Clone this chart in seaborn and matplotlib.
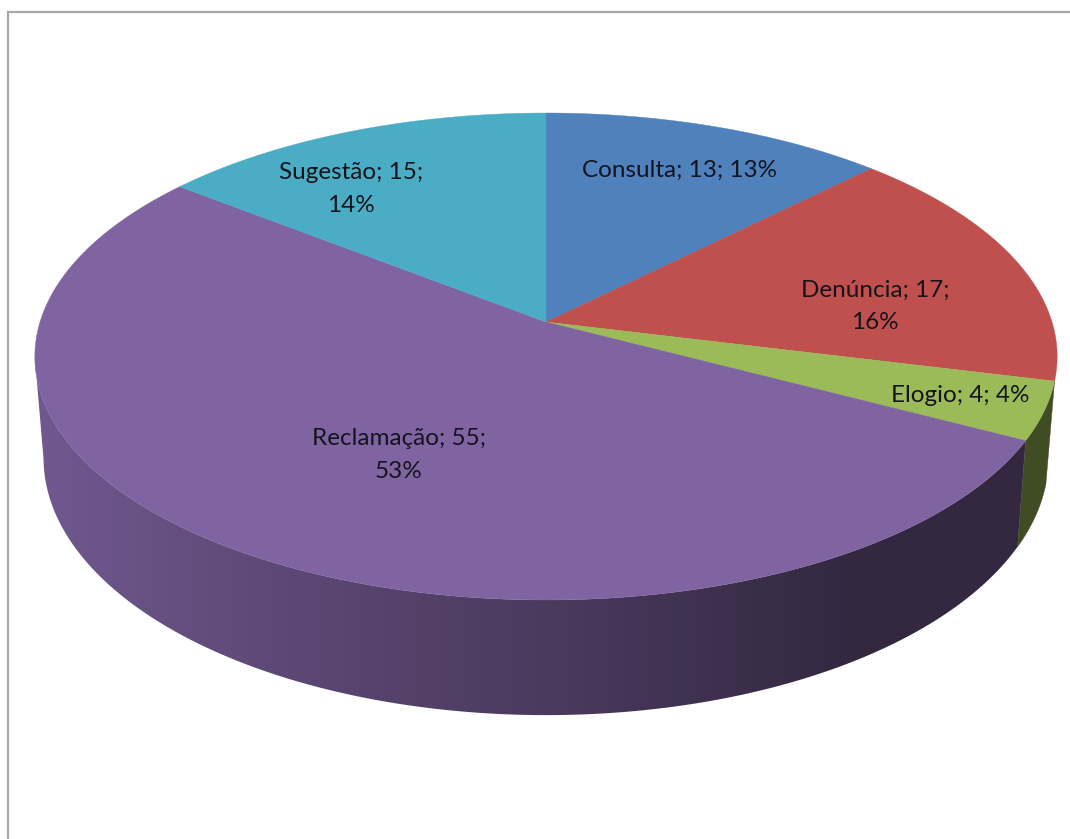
import numpy as np
import matplotlib
matplotlib.use("Agg")
import matplotlib.pyplot as plt
from matplotlib.colors import to_rgb
from matplotlib.patches import Polygon
import seaborn as sns

categories = ["Consulta", "Denúncia", "Elogio", "Reclamação", "Sugestão"]
values = [13, 17, 4, 55, 15]
line_breaks = [False, True, False, True, True]
slice_colors = ["#4f81bd", "#c0504d", "#9bbb59", "#8064a2", "#4bacc6"]

sns.set_theme(style="white")
plt.rcParams["font.family"] = ["Lato", "DejaVu Sans"]

# perspective of the pie, all in pixels of the 1070x839 picture
CX, CY = 546, 322
RX, RY = 506, 238.6
P = 0.1417
# lower rim of the disc
RX_LOW, RY_LOW, CY_LOW = 497.4, 252, 421.5

# shading of the side wall, by x position
shade_x = [40, 250, 550, 850]
shade_f = [0.88, 0.74, 0.58, 0.40]


def top_rim(theta):
    x, y = np.cos(theta), np.sin(theta)
    d = 1 + P * y
    return CX + RX * x / d, CY - RY * y / d


def low_rim(theta):
    x, y = np.cos(theta), np.sin(theta)
    d = 1 + P * y
    return CX + RX_LOW * x / d, CY_LOW - RY_LOW * y / d


fig = plt.figure(figsize=(10.70, 8.39), dpi=100)
ax = fig.add_axes([0, 0, 1, 1])

# let the pie work out the slice angles, then project them
wedges, _ = ax.pie(values, startangle=90, counterclock=False)
angles = [(w.theta1, w.theta2) for w in wedges]
ax.clear()

ax.plot([8, 8, 1070], [839, 12, 12], color="#a8a8a8", lw=1.6, solid_joinstyle="miter")

# side walls: only Elogio and Reclamação show
for i in [2, 3]:
    th = np.radians(np.linspace(angles[i][0], angles[i][1], 600))
    th = th[np.sin(th) <= -P]  # front part only, up to the silhouette
    xt, yt = top_rim(th)
    xl, yl = low_rim(th)
    outline = np.c_[np.r_[xt, xl[::-1]], np.r_[yt, yl[::-1]]]
    base = np.array(to_rgb(slice_colors[i]))
    if i == 3:
        # horizontal gradient clipped to the wall
        px = np.arange(0, 1070)
        f = np.interp(px, shade_x, shade_f)
        grad = (base[None, None, :] * f[None, :, None]).clip(0, 1)
        clip = Polygon(outline, closed=True, transform=ax.transData)
        im = ax.imshow(grad, extent=(0, 1070, 839, 0), aspect="auto", zorder=2,
                       interpolation="bilinear")
        im.set_clip_path(clip)
    else:
        ax.fill(outline[:, 0], outline[:, 1], color=tuple(base * 0.41), lw=0.3, zorder=2)

# top faces
for (t1, t2), col in zip(angles, slice_colors):
    th = np.radians(np.linspace(t1, t2, 200))
    xs, ys = top_rim(th)
    ax.fill(np.r_[CX, xs], np.r_[CY, ys], color=col, lw=0.3, zorder=3)

total = sum(values)
label_pos = [(680, 170), (875, 306), (960, 396), (399, 455), (351, 189)]
for cat, val, brk, (lx, ly) in zip(categories, values, line_breaks, label_pos):
    pct = int(val / total * 100 + 0.5)
    sep = "\n" if brk else " "
    ax.text(lx, ly, f"{cat}; {val};{sep}{pct}%", ha="center", va="center",
            fontsize=17.5, color="#14141c", linespacing=1.65, zorder=4)

ax.set_xlim(0, 1070)
ax.set_ylim(839, 0)
ax.set_axis_off()

fig.savefig("out.png", dpi=100, facecolor="white")
